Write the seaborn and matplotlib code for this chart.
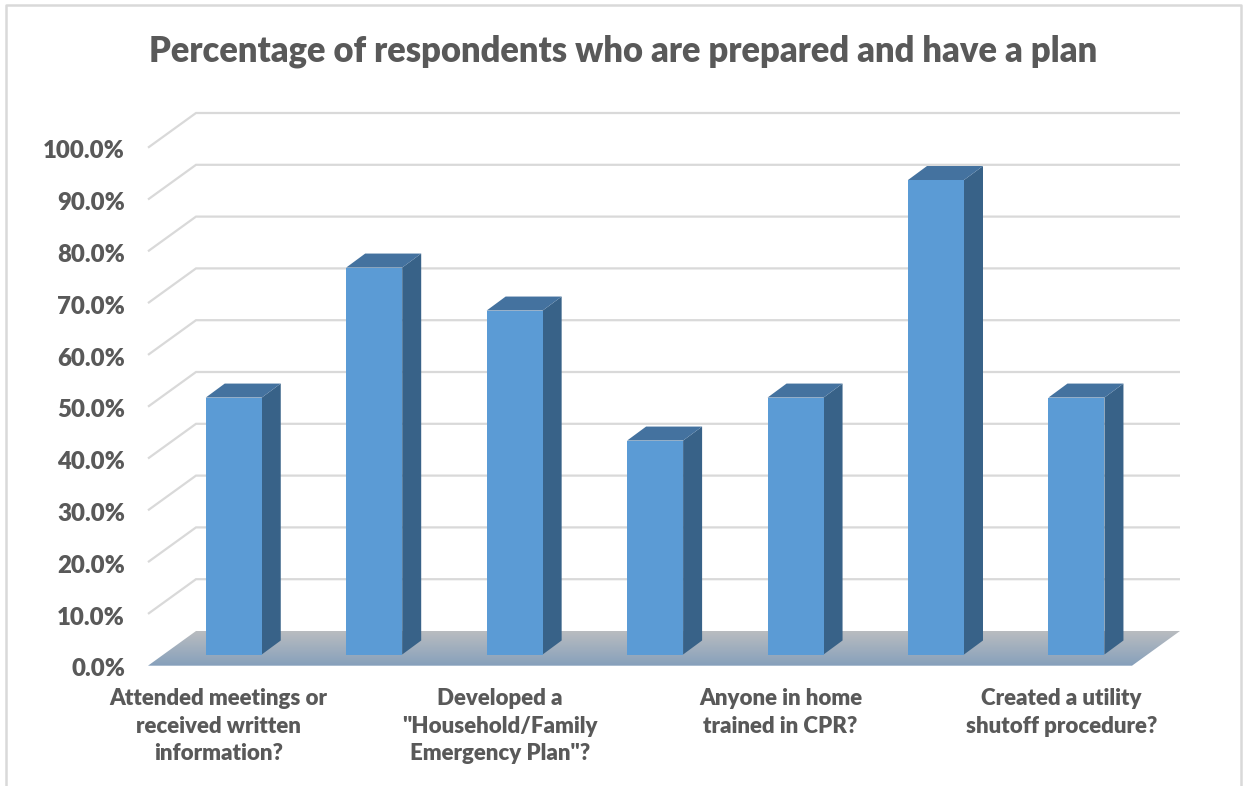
import numpy as np
import pandas as pd
import matplotlib
matplotlib.use("Agg")
import matplotlib.pyplot as plt
from matplotlib.lines import Line2D
from matplotlib.patches import Polygon
from matplotlib.transforms import ScaledTranslation
import seaborn as sns

title = "Percentage of respondents who are prepared and have a plan"
bar_positions = [0, 1, 2, 3, 4, 5, 6]
values = [49.6, 74.7, 66.4, 41.3, 49.6, 91.6, 49.6]
label_positions = [0, 2, 4, 6]
labels = [
    "Attended meetings or\nreceived written\ninformation?",
    'Developed a\n"Household/Family\nEmergency Plan"?',
    "Anyone in home\ntrained in CPR?",
    "Created a utility\nshutoff procedure?",
]
y_ticks = [0, 10, 20, 30, 40, 50, 60, 70, 80, 90, 100]
y_labels = [f"{v:.1f}%" for v in y_ticks]

W, H = 1243, 786
sns.set_theme(style="white")
plt.rcParams["font.family"] = ["Lato", "DejaVu Sans"]

TEXT = "#595959"
GRID = "#d9d9d9"
FRONT = "#5b9bd5"
TOP = "#44729f"
SIDE = "#386288"

# pixel calibration of the pseudo-3D scene
cat0_px, cat_px = 233.75, 140.45
zero_px, pct_px = 654.5, 5.18
left_px, right_px, top_px, bottom_px = 148.0, 1180.0, 111.0, 666.0
dx_bar, dy_bar = 19 / cat_px, 14 / pct_px
back_dx, back_y0 = 48 / cat_px, (zero_px - 631) / pct_px
front_y0 = (zero_px - 665.7) / pct_px

fig = plt.figure(figsize=(W / 100, H / 100), dpi=100, facecolor="white")
ax = fig.add_axes([left_px / W, 1 - bottom_px / H,
                   (right_px - left_px) / W, (bottom_px - top_px) / H])
ax.patch.set_alpha(0)

df = pd.DataFrame({"pos": bar_positions, "value": values})
sns.barplot(data=df, x="pos", y="value", color=FRONT, saturation=1,
            width=56 / cat_px, native_scale=True, ax=ax, zorder=5,
            linewidth=0, errorbar=None)

xlim = ((left_px - cat0_px) / cat_px, (right_px - cat0_px) / cat_px)
ylim = ((zero_px - bottom_px) / pct_px, (zero_px - top_px) / pct_px)
ax.set_xlim(*xlim)
ax.set_ylim(*ylim)

x_front_l, x_back_l = xlim[0], xlim[0] + back_dx
x_back_r = xlim[1]
x_front_r = x_back_r - back_dx

# back wall gridlines with their diagonal left returns
for v in y_ticks[1:]:
    ax.plot([x_front_l, x_back_l, x_back_r],
            [v + front_y0, v + back_y0, v + back_y0],
            color=GRID, lw=1.6, zorder=1, solid_joinstyle="miter",
            solid_capstyle="butt", clip_on=False)

# floor with vertical gradient
floor = Polygon([(x_front_l, front_y0), (x_back_l, back_y0),
                 (x_back_r, back_y0), (x_front_r, front_y0)],
                closed=True, fc="none", ec="none", transform=ax.transData)
ax.add_patch(floor)
top_rgb = np.array(matplotlib.colors.to_rgb("#b9bcc0"))
bot_rgb = np.array(matplotlib.colors.to_rgb("#86a0bb"))
t = np.linspace(0, 1, 64)[:, None, None]
grad = top_rgb[None, None, :] * (1 - t) + bot_rgb[None, None, :] * t
im = ax.imshow(grad, extent=(x_front_l, x_back_r, front_y0, back_y0),
               origin="upper", aspect="auto", zorder=2, interpolation="bilinear")
im.set_clip_path(floor)
ax.set_xlim(*xlim)
ax.set_ylim(*ylim)

# 3D side and top faces derived from each seaborn bar
for bar in ax.patches:
    if bar is floor:
        continue
    x0, w, h = bar.get_x(), bar.get_width(), bar.get_height()
    x1 = x0 + w
    ax.add_patch(Polygon([(x1, 0), (x1 + dx_bar, dy_bar), (x1 + dx_bar, h + dy_bar), (x1, h)],
                         closed=True, fc=SIDE, ec="none", zorder=4))
    ax.add_patch(Polygon([(x0, h), (x0 + dx_bar, h + dy_bar), (x1 + dx_bar, h + dy_bar), (x1, h)],
                         closed=True, fc=TOP, ec="none", zorder=4))

# axes text
ax.set_xlabel("")
ax.set_ylabel("")
ax.set_yticks(y_ticks)
ax.set_yticklabels(y_labels, fontsize=17.3, fontweight=800, color=TEXT)
ax.set_xticks(label_positions)
ax.set_xticklabels(labels, fontsize=16, fontweight=800, color=TEXT,
                   linespacing=1.39, ha="center", va="top")
ax.tick_params(axis="y", length=0, pad=16.5)
ax.tick_params(axis="x", length=0, pad=16)
y_off = ScaledTranslation(0, -13 / 100, fig.dpi_scale_trans)
for lab in ax.get_yticklabels():
    lab.set_transform(lab.get_transform() + y_off)
x_off = ScaledTranslation(-15 / 100, 0, fig.dpi_scale_trans)
for lab in ax.get_xticklabels():
    lab.set_transform(lab.get_transform() + x_off)
sns.despine(ax=ax, left=True, bottom=True)

fig.text(623 / W, 1 - 51 / H, title, ha="center", va="center",
         fontsize=24.87, fontweight=800, color=TEXT)

# chart frame (open at the bottom)
frame = dict(color=GRID, lw=1.8, transform=fig.transFigure)
fig.add_artist(Line2D([6 / W, 6 / W, 1241 / W, 1241 / W], [0, 1 - 5 / H, 1 - 5 / H, 0], **frame))

fig.savefig("out.png", dpi=100)
